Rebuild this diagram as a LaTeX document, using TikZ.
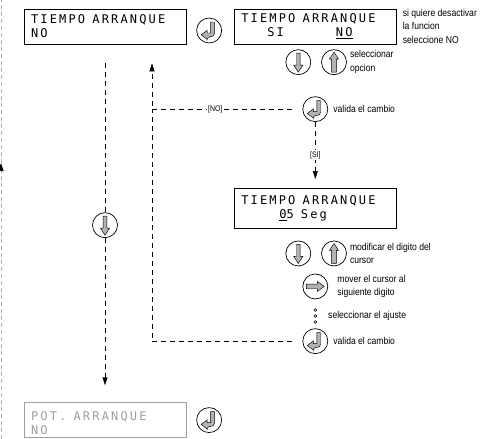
\documentclass[tikz,border=0pt]{standalone}
\usepackage{fontspec}
\usetikzlibrary{positioning, arrows.meta, calc}
\newfontfamily\lcdfont{DejaVu Sans Mono}[LetterSpace=18]
\newfontfamily\notefont{Liberation Sans}[FakeStretch=0.86]
\newcommand{\lcdgap}{\hphantom{X}}
% key symbols, drawn round the centre of a key node
\newcommand{\keydown}[1]{\draw[keyicon, shift={(#1)}] (-1.8,-9) -- (1.8,-9) -- (1.8,3) -- (4.6,3) -- (0,10) -- (-4.6,3) -- (-1.8,3) -- cycle;}
\newcommand{\keyup}[1]{\draw[keyicon, shift={(#1)}] (-2.3,10) -- (2.3,10) -- (2.3,-3) -- (4.6,-3) -- (0,-10) -- (-4.6,-3) -- (-2.3,-3) -- cycle;}
\newcommand{\keyright}[1]{\draw[keyicon, shift={(#1)}] (-9,-2.3) -- (2,-2.3) -- (2,-5) -- (9,0) -- (2,5) -- (2,2.3) -- (-9,2.3) -- cycle;}
\newcommand{\keyenter}[1]{\draw[keyicon, shift={(#1)}] (1.5,-8.5) -- (5.2,-8.5) {[rounded corners=3pt] -- (5.2,6.2) -- (-2,6.2)} -- (-2,8.8) -- (-8,4.3) -- (-2,-0.2) -- (-2,2.5) -- (1.5,2.5) -- cycle;}

\begin{document}
\begin{tikzpicture}[
    x=1pt, y=-1pt,
    lcdbox/.style={
        rectangle,
        draw,
        line width=0.6pt,
        align=left,
        text width=148pt,
        minimum height=35pt,
        inner xsep=7pt,
        inner ysep=4.5pt,
        font=\lcdfont\fontsize{12}{14}\selectfont
    },
    dimbox/.style={lcdbox, draw=gray!75, text=gray!75, text depth=9pt},
    key/.style={circle, draw, line width=0.7pt, minimum size=25pt, inner sep=0pt},
    keyicon/.style={draw, line width=0.45pt, fill=gray!60},
    hint/.style={align=left, inner sep=0pt, font=\notefont\fontsize{10}{13.5}\selectfont},
    tag/.style={fill=white, inner sep=1pt, font=\notefont\fontsize{8}{9}\selectfont},
    flow/.style={line width=0.6pt, dash pattern=on 5pt off 4pt},
    margin/.style={line width=0.6pt, gray!60, dash pattern=on 4pt off 3pt},
    >={Triangle[width=5pt,length=8pt]}
]
    \useasboundingbox (0,0) rectangle (490,439);

    % --- left margin ---
    \coordinate (mtop) at (1,0);
    \coordinate (mmid) at (1,163);
    \coordinate (mbot) at (1,439);
    \draw[margin, -{Triangle[width=5pt,length=8pt,color=black]}] (mbot) -- (mmid);
    \draw[margin] (mmid) -- (mtop);

    % --- 1) screen and edit screen ---
    \node[lcdbox] (scr) at (105,26.5) {TIEMPO\lcdgap ARRANQUE\\NO};
    \node[key, right=10pt of scr, yshift=-4pt] (ok1) {};
    \node[lcdbox, right=12pt of ok1, yshift=4pt] (edit) {%
        TIEMPO\lcdgap ARRANQUE\\
        \hspace*{26pt}SI\hspace*{52pt}\underline{NO}};
    \node[hint, anchor=north west] (hint1) at ([xshift=6pt]edit.north east) {%
        si quiere desactivar\\la funcion\\seleccione NO};

    % --- 2) choose option ---
    \node[key, below=5pt of edit, xshift=-17pt] (dn1) {};
    \node[key, right=10pt of dn1] (up1) {};
    \node[hint, right=3pt of up1] {seleccionar\\opcion};

    \node[key, below=52pt of edit] (ok2) {};
    \node[hint, right=5pt of ok2] {valida el cambio};

    % --- 3) value screen ---
    \node[lcdbox, below=66pt of ok2, minimum height=40pt] (val) {%
        TIEMPO\lcdgap ARRANQUE\\
        \hspace*{38pt}\underline{0}5\lcdgap Seg};

    \node[key, below=12pt of val, xshift=-17pt] (dn2) {};
    \node[key, right=10pt of dn2] (up2) {};
    \node[hint, right=3pt of up2] {modificar el digito del\\cursor};

    \node[key, below=45pt of val] (nx) {};
    \node[hint, right=9pt of nx] {mover el cursor al\\siguiente digito};

    \node[inner sep=0pt, below=16pt of nx] (dots) {};
    \node[hint, right=12pt of dots] {seleccionar el ajuste};

    \node[key, below=29pt of nx] (ok3) {};
    \node[hint, right=5pt of ok3] {valida el cambio};

    % --- 4) next screen ---
    \node[key, below=168pt of scr] (dn0) {};
    \node[dimbox, below=358pt of scr] (next) {POT.\lcdgap ARRANQUE\\NO};
    \node[key, right=10pt of next] (ok4) {};

    % --- key symbols ---
    \keyenter{ok1} \keyenter{ok2} \keyenter{ok3} \keyenter{ok4}
    \keydown{dn0} \keydown{dn1} \keydown{dn2}
    \keyup{up1} \keyup{up2}
    \keyright{nx}
    \foreach \d in {-6,0,6}
        \draw[line width=0.5pt] ([yshift=\d pt]dots) circle (1.4pt);

    % --- flow lines ---
    \coordinate (back) at ([xshift=47pt,yshift=-19pt]scr.south);
    \coordinate (join) at (back |- ok2);

    \draw[flow] ([yshift=-19pt]scr.south) -- (dn0);
    \draw[flow, ->, shorten >=17pt] (dn0) -- (next);
    \draw[flow, ->, shorten >=9pt] (ok2) -- node[tag]{[SI]} (val);
    \draw[flow, ->] ([xshift=-10pt]ok2.west) -- node[tag, pos=0.55]{[NO]} (join) -- (back);
    \draw[flow] ([xshift=-10pt]ok3.west) -| (join);

\end{tikzpicture}
\end{document}
